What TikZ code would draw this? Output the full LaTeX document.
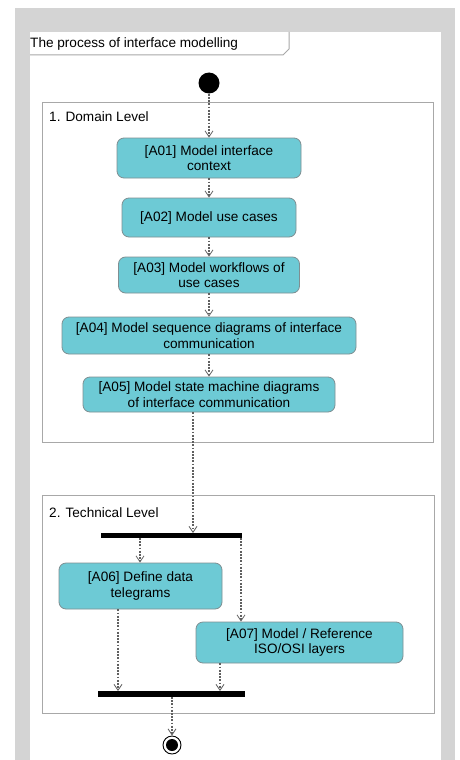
\documentclass[tikz,border=0pt]{standalone}
\usepackage{fontspec}
\setmainfont{Liberation Sans}
\usetikzlibrary{arrows.meta,calc}
\definecolor{frameGray}{HTML}{D4D4D4}
\definecolor{edgeGray}{HTML}{A8A8A8}
\definecolor{actFill}{HTML}{6DCAD5}
\definecolor{actLine}{HTML}{7F8F92}
\definecolor{flowGray}{HTML}{606060}
\tikzset{
  activity/.style={draw=actLine, line width=0.8pt, fill=actFill, rounded corners=7pt,
    align=center, inner sep=0pt, font=\fontsize{13.6}{15.5}\selectfont},
  region/.style={draw=edgeGray, line width=1pt},
  bar/.style={fill=black, draw=none, inner sep=0pt},
  flow/.style={draw=flowGray, line width=1.2pt, dash pattern=on 1.8pt off 1.4pt,
    -{Straight Barb[length=6pt,width=8pt,line width=0.8pt]}},
  lbl/.style={anchor=west, inner sep=0pt, font=\fontsize{13.6}{15.5}\selectfont}
}
\begin{document}
\begin{tikzpicture}[x=1pt,y=-1pt]
\useasboundingbox (0,0) rectangle (460,760);
% sheet with grey border
\fill[frameGray] (15,8) rectangle (455,760);
\fill[white] (30,32) rectangle (441,760);

% diagram title tab
\draw[edgeGray, line width=1pt] (30,55) -- (283,55) -- (289,49) -- (289,32);
\node[lbl] (title) at (30,44) {The process of interface modelling};

% partitions
\draw[region] (42,102) rectangle (433,442);
\node[lbl] (dom) at (49,117) {1. Domain Level};
\draw[region] (42,495) rectangle (434,713);
\node[lbl] (tech) at (49,513) {2. Technical Level};

% initial node
\node[circle, fill=black, minimum size=21pt, inner sep=0pt] (init) at (209,83) {};

% activities
\node[activity, minimum width=184pt, minimum height=40pt] (a1) at (209,158)
  {[A01] Model interface\\context};
\node[activity, minimum width=174pt, minimum height=39pt] (a2) at (209,217.5)
  {[A02] Model use cases};
\node[activity, minimum width=181pt, minimum height=36pt] (a3) at (209,275)
  {[A03] Model workflows of\\use cases};
\node[activity, minimum width=294pt, minimum height=37pt] (a4) at (209,335.5)
  {[A04] Model sequence diagrams of interface\\communication};
\node[activity, minimum width=252pt, minimum height=35pt] (a5) at (209,394.5)
  {[A05] Model state machine diagrams\\of interface communication};
\node[activity, minimum width=163pt, minimum height=46pt] (a6) at (140.5,586)
  {[A06] Define data\\telegrams};
\node[activity, minimum width=207pt, minimum height=41pt] (a7) at (299.5,642.5)
  {[A07] Model / Reference\\ISO/OSI layers};

% fork and join bars
\node[bar, minimum width=141pt, minimum height=5pt] (fork) at (171.5,535.5) {};
\node[bar, minimum width=147pt, minimum height=6pt] (join) at (171.5,694) {};

% final node
\node[circle, draw=black, line width=0.9pt, fill=white, minimum size=18pt, inner sep=0pt] (final) at (172,745) {};
\fill[black] (final.center) circle (6pt);

% attachment points on the bars
\coordinate (fin) at (193,533);
\coordinate (fo1) at (140,538);
\coordinate (fo2) at (241,538);
\coordinate (jn1) at (118,691);
\coordinate (jn2) at (220,691);
\coordinate (jo) at (172,697);

% control flows
\draw[flow] (init) -- (a1);
\draw[flow] (a1) -- (a2);
\draw[flow] (a2) -- (a3);
\draw[flow] (a3) -- (a4);
\draw[flow] (a4) -- (a5);
\draw[flow] (a5.south -| fin) -- (fin);
\draw[flow] (fo1) -- (fo1 |- a6.north);
\draw[flow] (fo2) -- (fo2 |- a7.north);
\draw[flow] (a6.south -| jn1) -- (jn1);
\draw[flow] (a7.south -| jn2) -- (jn2);
\draw[flow] (jo) -- (final);
\end{tikzpicture}
\end{document}
